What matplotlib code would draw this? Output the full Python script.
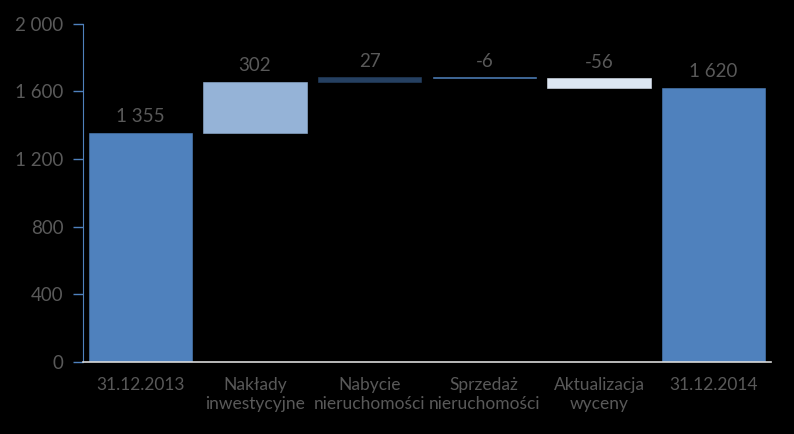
import matplotlib.pyplot as plt

categories = ['31.12.2013', 'Nakłady\ninwestycyjne', 'Nabycie\nnieruchomości',
              'Sprzedaż\nnieruchomości', 'Aktualizacja\nwyceny', '31.12.2014']
changes = [1355, 302, 27, -6, -56, 1620]
labels = ['1 355', '302', '27', '-6', '-56', '1 620']
colors = ['#4F81BD', '#95B3D7', '#254061', '#4F81BD', '#DCE6F2', '#4F81BD']
yticks = [0, 400, 800, 1200, 1600, 2000]

plt.rcParams['font.family'] = ['Lato', 'DejaVu Sans']

txt = '#595959'

# waterfall: first and last bars start at zero, the rest float
bottoms, heights, tops = [], [], []
running = 0
for i, v in enumerate(changes):
    if i == 0 or i == len(changes) - 1:
        bottoms.append(0)
        heights.append(v)
        running = v
    else:
        bottoms.append(running if v >= 0 else running + v)
        heights.append(abs(v))
        running += v
    tops.append(bottoms[-1] + heights[-1])

fig = plt.figure(figsize=(7.94, 4.34), dpi=100, facecolor='black')
ax = fig.add_axes([0.1045, 0.166, 0.8665, 0.779])
ax.set_facecolor('black')

x = range(len(categories))
ax.bar(x, heights, bottom=bottoms, width=0.9, color=colors, edgecolor=colors, linewidth=0.4)
for i in x:
    ax.text(i, tops[i] + 45, labels[i], ha='center', va='bottom', color=txt, fontsize=13.5)

ax.set_xlim(-0.5, len(categories) - 0.5)
ax.set_ylim(0, 2000)
ax.set_yticks(yticks)
ax.set_yticklabels([f'{t:,}'.replace(',', ' ') for t in yticks], color=txt, fontsize=13.5)
ax.set_xticks(list(x))
ax.set_xticklabels(categories, color=txt, fontsize=12.5, linespacing=1.25)
ax.tick_params(axis='x', length=0, pad=11)
ax.tick_params(axis='y', colors='#4F81BD', length=7, width=1, labelcolor=txt, pad=7)

ax.spines['top'].set_visible(False)
ax.spines['right'].set_visible(False)
ax.spines['left'].set_color('#4F81BD')
ax.spines['bottom'].set_color('#D9D9D9')
ax.spines['bottom'].set_linewidth(1.2)

fig.savefig('out.png', dpi=100, facecolor='black')
